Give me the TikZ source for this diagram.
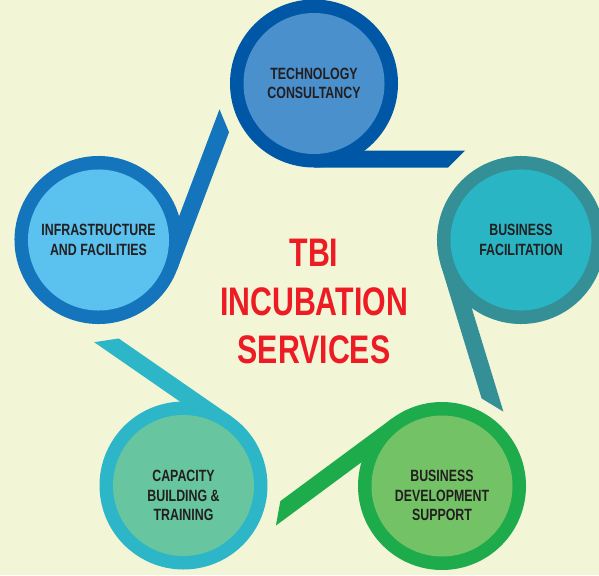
\documentclass[tikz,border=0pt]{standalone}
\usepackage{fontspec}
\setmainfont{Liberation Sans}[FakeStretch=0.76]

\definecolor{paper}{HTML}{F2F6D7}
\definecolor{headred}{HTML}{ED1C24}
\definecolor{labeltext}{HTML}{231F20}
\definecolor{techRim}{HTML}{0057A5}
\definecolor{techCore}{HTML}{4A90CD}
\definecolor{facRim}{HTML}{348F97}
\definecolor{facCore}{HTML}{2AB5C4}
\definecolor{devRim}{HTML}{1DAB4B}
\definecolor{devCore}{HTML}{73C366}
\definecolor{capRim}{HTML}{2DB6C7}
\definecolor{capCore}{HTML}{67C59F}
\definecolor{infRim}{HTML}{1575BC}
\definecolor{infCore}{HTML}{5BC1EF}

\begin{document}
\begin{tikzpicture}[x=0.03cm, y=0.03cm,
	service/.style={font=\bfseries\fontsize{13.9}{16.5}\selectfont,
		text=labeltext, align=center},
	headline/.style={font=\bfseries\fontsize{34}{41.4}\selectfont,
		text=headred, align=center}]
	\fill[paper] (0,0) rectangle (599,575);
	\clip (0,0) rectangle (599,575);

	% ring, tail and core of each service
	% rim / core / centre / tail angle / outer and inner tail length
	\foreach \rim/\core/\cx/\cy/\ang/\lo/\li in {
		techRim/techCore/314/491.5/0/134/151,
		facRim/facCore/521/335/-73/140/159,
		devRim/devCore/442/89/216.5/139/157,
		capRim/capCore/183.5/89.5/145.3/137/155,
		infRim/infCore/98.5/335/69.3/147/165} {
		\begin{scope}[shift={(\cx,\cy)}, rotate=\ang]
			\fill[\rim] (0,-84) -- (\lo,-84) -- (\li,-67) -- (0,-67) -- cycle;
			\fill[\rim] (0,0) circle (84);
			\fill[\core] (0,0) circle (70.5);
		\end{scope}
	}

	\node [service] (tech) at (314, 491.5) {TECHNOLOGY\\CONSULTANCY};
	\node [service] (fac)  at (521, 335)   {BUSINESS\\FACILITATION};
	\node [service] (dev)  at (442, 79.5)  {BUSINESS\\DEVELOPMENT\\SUPPORT};
	\node [service] (cap)  at (183.5, 79.5){CAPACITY\\BUILDING \&\\TRAINING};
	\node [service] (inf)  at (98.5, 335)  {INFRASTRUCTURE\\AND FACILITIES};

	\node [headline] (title) at (314, 273.5) {TBI\\INCUBATION\\SERVICES};
\end{tikzpicture}
\end{document}
